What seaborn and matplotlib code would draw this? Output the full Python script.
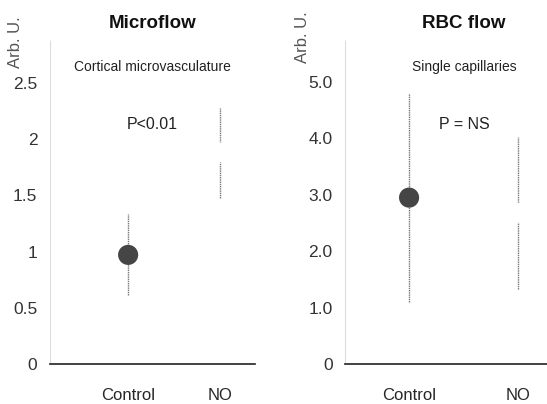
import matplotlib
matplotlib.use("Agg")
import matplotlib.pyplot as plt
import seaborn as sns
import pandas as pd

sns.set_style("white")
plt.rcParams["font.family"] = ["Liberation Sans", "DejaVu Sans"]

groups = ["Control", "NO"]

# Microflow (cortical microvasculature), mean and SD
micro_mean = [0.97, 1.88]
micro_sd = [0.36, 0.40]
micro_ticks = [0, 0.5, 1, 1.5, 2, 2.5]
micro_ticklabels = ["0", "0.5", "1", "1.5", "2", "2.5"]

# RBC flow (single capillaries), mean and SD
rbc_mean = [2.95, 2.68]
rbc_sd = [1.85, 1.35]
rbc_ticks = [0, 1, 2, 3, 4, 5]
rbc_ticklabels = ["0", "1.0", "2.0", "3.0", "4.0", "5.0"]

marker_colors = ["#454545", "white"]

fig = plt.figure(figsize=(5.47, 4.04), dpi=100)


def panel(rect, mean, sd, ticks, ticklabels, ylim, xlim, title, sub, ptext,
          text_x, ylab_pos):
    ax = fig.add_axes(rect)
    df = pd.DataFrame({"group": groups, "mean": mean, "sd": sd})
    # error bars (faint, dotted like the scan)
    ax.vlines(range(len(groups)), df["mean"] - df["sd"], df["mean"] + df["sd"],
              colors="#777777", linewidth=1.0, linestyles=(0, (1, 0.6)), zorder=1)
    sns.scatterplot(data=df, x="group", y="mean", hue="group",
                    palette=marker_colors, s=210, edgecolor="none",
                    legend=False, ax=ax, zorder=3)
    ax.set_xlim(*xlim)
    ax.set_ylim(*ylim)
    ax.set_yticks(ticks)
    ax.set_yticklabels(ticklabels)
    ax.set_xlabel("")
    ax.set_ylabel("")
    ax.tick_params(axis="y", labelsize=12.5, labelcolor="#333333", length=3,
                   color="#cccccc", direction="out", pad=6)
    ax.tick_params(axis="x", labelsize=12, length=0, pad=17)
    for s in ["top", "right"]:
        ax.spines[s].set_visible(False)
    ax.spines["left"].set_color("#dddddd")
    ax.spines["left"].set_linestyle((0, (1, 1)))
    ax.spines["left"].set_linewidth(0.8)
    ax.spines["bottom"].set_color("#222222")
    ax.spines["bottom"].set_linewidth(1.2)
    ax.text(text_x, 1.025, title, transform=ax.transAxes, ha="center",
            va="bottom", fontsize=13.5, fontweight="bold", color="#111111")
    ax.text(text_x, 0.917, sub, transform=ax.transAxes, ha="center",
            va="center", fontsize=10, color="#222222")
    ax.text(text_x, 0.74, ptext, transform=ax.transAxes, ha="center",
            va="center", fontsize=11.5, color="#222222")
    ax.text(ylab_pos[0], ylab_pos[1], "Arb. U.", transform=ax.transAxes,
            rotation=90, ha="center", va="bottom", fontsize=12,
            color="#555555")
    return ax


# left panel: bottom axis at y=364px, top at y=40px
panel([50 / 547, 40 / 404, 205 / 547, 324 / 404],
      micro_mean, micro_sd, micro_ticks, micro_ticklabels,
      (0, 324 / 112.5), (-0.85, 1.38),
      "Microflow", "Cortical microvasculature", "P<0.01",
      0.5, (-0.17, 0.914))

panel([345 / 547, 40 / 404, 202 / 547, 324 / 404],
      rbc_mean, rbc_sd, rbc_ticks, rbc_ticklabels,
      (0, 324 / 56.4), (-0.59, 1.27),
      "RBC flow", "Single capillaries", "P = NS",
      0.59, (-0.21, 0.929))

fig.savefig("out.png", dpi=100)
